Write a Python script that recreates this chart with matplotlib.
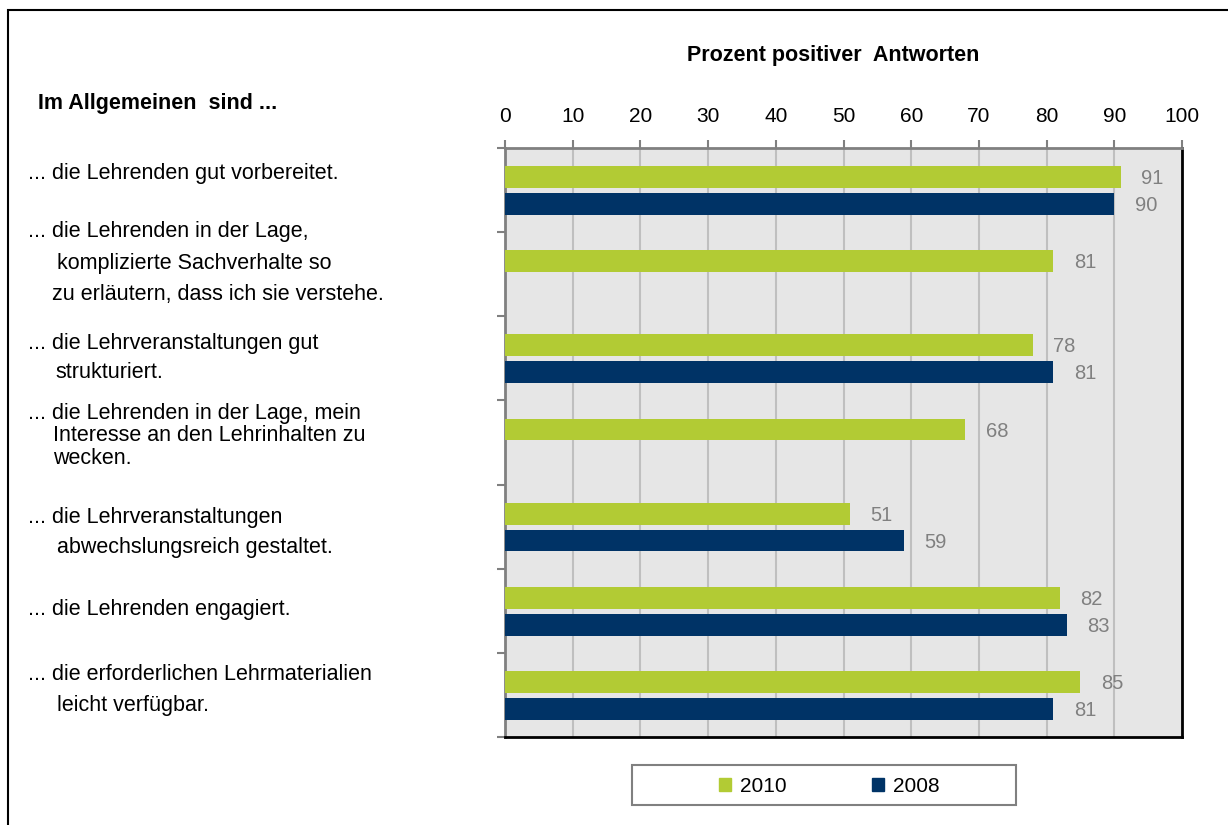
import numpy as np
import matplotlib
matplotlib.use("Agg")
import matplotlib.pyplot as plt
from matplotlib.patches import Rectangle, Patch

plt.rcParams['font.family'] = ['Liberation Sans', 'DejaVu Sans']

categories = [
    ["... die Lehrenden gut vorbereitet."],
    ["... die Lehrenden in der Lage,", "komplizierte Sachverhalte so", "zu erläutern, dass ich sie verstehe."],
    ["... die Lehrveranstaltungen gut", "strukturiert."],
    ["... die Lehrenden in der Lage, mein", "Interesse an den Lehrinhalten zu", "wecken."],
    ["... die Lehrveranstaltungen", "abwechslungsreich gestaltet."],
    ["... die Lehrenden engagiert."],
    ["... die erforderlichen Lehrmaterialien", "leicht verfügbar."],
]
values_2010 = [91, 81, 78, 68, 51, 82, 85]
values_2008 = [90, np.nan, 81, np.nan, 59, 83, 81]
series_names = ["2010", "2008"]
x_ticks = [0, 10, 20, 30, 40, 50, 60, 70, 80, 90, 100]

GREEN = "#B2CB34"
NAVY = "#003366"
W, H = 1228, 825

fig = plt.figure(figsize=(12.28, 8.25), dpi=100)

def fx(px):
    return px / W

def fy(py):
    return 1 - py / H

# outer frame
fig.patches.append(Rectangle((fx(8), fy(835)), fx(1240), 1.0, transform=fig.transFigure,
                             fill=False, edgecolor="black", linewidth=1.5, clip_on=False))

ax = fig.add_axes([fx(505), fy(737), fx(1182) - fx(505), fy(148) - fy(737)])
ax.set_facecolor("#E6E6E6")

n = len(categories)
idx = np.arange(n)
bh = 0.26
y10 = idx - 0.155
y08 = idx + 0.165
ax.barh(y10, values_2010, height=bh, color=GREEN, zorder=3)
ax.barh(y08, np.nan_to_num(values_2008, nan=0), height=bh, color=NAVY, zorder=3)

for yy, v in zip(y10, values_2010):
    ax.text(v + 3, yy + 0.02, f"{v:g}", va="center", ha="left", fontsize=14.5, color="#808080")
for yy, v in zip(y08, values_2008):
    if not np.isnan(v):
        ax.text(v + 3, yy + 0.02, f"{v:g}", va="center", ha="left", fontsize=14.5, color="#808080")

ax.set_xlim(0, 100)
ax.set_ylim(n - 0.5, -0.5)
ax.set_xticks(x_ticks)
ax.xaxis.tick_top()
ax.tick_params(axis="x", which="both", direction="out", length=6, width=1.5, color="#808080",
               labelsize=15, pad=10, labelcolor="black")
ax.set_xticklabels([str(t) for t in x_ticks])
ax.set_yticks(np.arange(n + 1) - 0.5)
ax.set_yticklabels([])
ax.tick_params(axis="y", direction="out", length=6, width=1.5, color="#808080")
ax.grid(axis="x", color="#BFBFBF", linewidth=1.5, zorder=0)
ax.set_axisbelow(True)

ax.spines["left"].set_color("#808080")
ax.spines["left"].set_linewidth(2)
ax.spines["top"].set_color("#808080")
ax.spines["top"].set_linewidth(2)
ax.spines["right"].set_color("black")
ax.spines["right"].set_linewidth(2)
ax.spines["bottom"].set_color("black")
ax.spines["bottom"].set_linewidth(2)

# title
fig.text(fx(833), fy(56), "Prozent positiver  Antworten", ha="center", va="center",
         fontsize=15.5, fontweight="bold")
fig.text(fx(38), fy(103), "Im Allgemeinen  sind ...", ha="left", va="center",
         fontsize=15.5, fontweight="bold")

# category labels
line_y = [
    [174],
    [232, 263, 294],
    [344, 372],
    [414, 436, 459],
    [517, 548],
    [610],
    [674, 705],
]
line_x = [
    [28],
    [28, 57, 52],
    [28, 55],
    [28, 53, 53],
    [28, 57],
    [28],
    [28, 57],
]
for lines, ys, xs in zip(categories, line_y, line_x):
    for t, yy, xx in zip(lines, ys, xs):
        fig.text(fx(xx), fy(yy), t, ha="left", va="center", fontsize=15.5)

# legend frame drawn separately
fig.patches.append(Rectangle((fx(632), fy(805)), fx(1016) - fx(632), fy(765) - fy(805),
                             transform=fig.transFigure, fill=False, edgecolor="#808080",
                             linewidth=1.5))
handles = [Patch(facecolor=GREEN, edgecolor=GREEN), Patch(facecolor=NAVY, edgecolor=NAVY)]
leg = fig.legend(handles, series_names, loc="center", bbox_to_anchor=(fx(829), fy(786)),
                 ncol=2, frameon=False, fontsize=15,
                 handlelength=0.6, handleheight=0.6, handletextpad=0.4,
                 columnspacing=4.1, borderpad=0, borderaxespad=0)

fig.savefig("out.png", dpi=100)
